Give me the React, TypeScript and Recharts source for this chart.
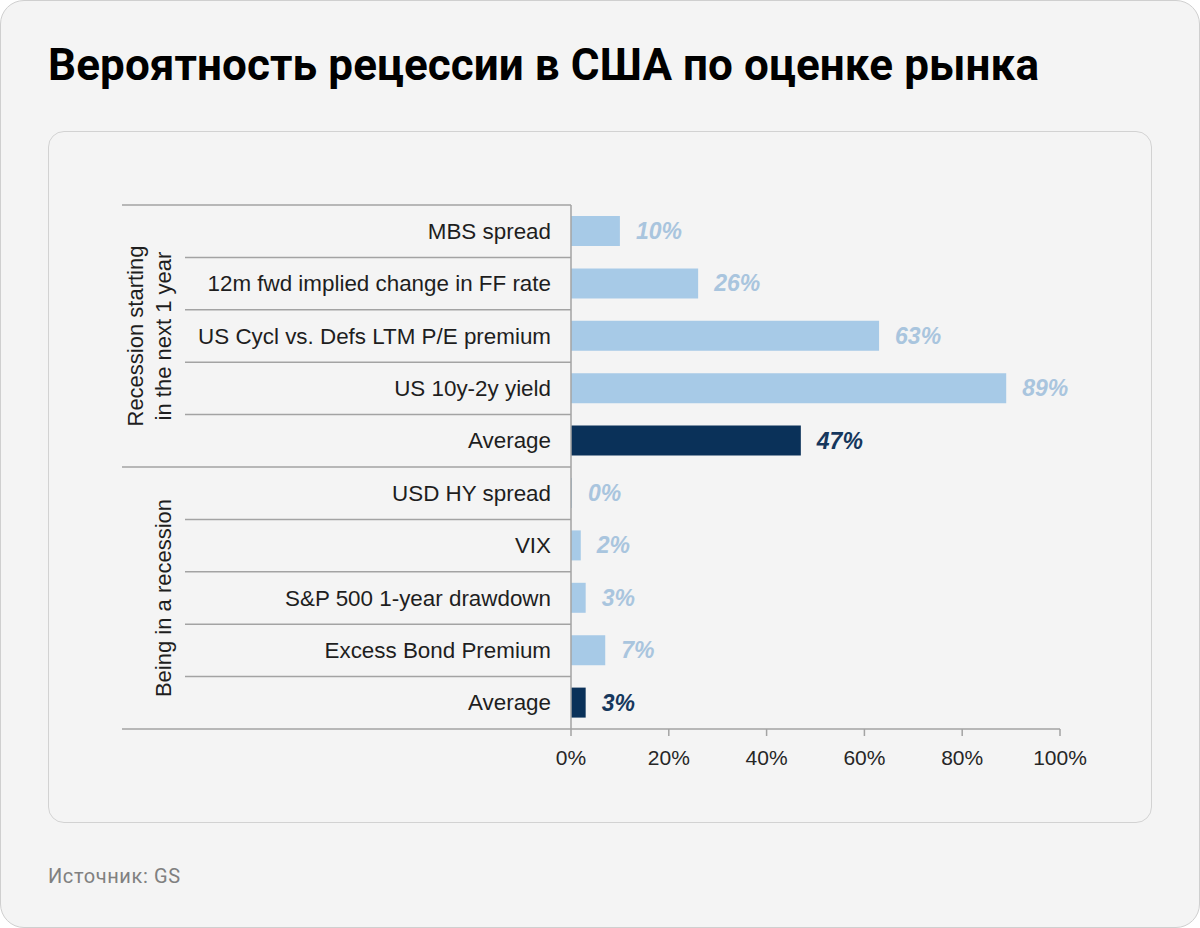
import React from 'react';
import { BarChart, Bar, XAxis, YAxis, Cell, LabelList } from 'recharts';

// rows, top to bottom
const CATEGORIES = [
  'MBS spread',
  '12m fwd implied change in FF rate',
  'US Cycl vs. Defs LTM P/E premium',
  'US 10y-2y yield',
  'Average',
  'USD HY spread',
  'VIX',
  'S&P 500 1-year drawdown',
  'Excess Bond Premium',
  'Average',
];
const VALUES = [10, 26, 63, 89, 47, 0.2, 2, 3, 7, 3];
const GROUP_OF = [0, 0, 0, 0, 0, 1, 1, 1, 1, 1];
const AVERAGE_ROWS = [4, 9];
const GROUP_LABELS = [['Recession starting', 'in the next 1 year'], ['Being in a recession']];
const X_TICKS = [0, 20, 40, 60, 80, 100];

const LIGHT_BAR = '#a7cae7';
const DARK_BAR = '#0a3159';
const LIGHT_LABEL = '#a9c5de';
const DARK_LABEL = '#16375d';
const RULE = '#a3a3a3';

const FONT = '"Liberation Sans", Arial, sans-serif';

// layout of the plot
const PLOT_LEFT = 571;
const PLOT_TOP = 205;
const PLOT_BOTTOM = 729;
const PLOT_RIGHT = 1060;
const ROW_H = (PLOT_BOTTOM - PLOT_TOP) / CATEGORIES.length;
const TICK_GAP = 20;

const data = CATEGORIES.map((name, i) => ({
  key: `${GROUP_OF[i]}|${name}`,
  name,
  value: VALUES[i],
  avg: AVERAGE_ROWS.includes(i),
}));
const rowKeys = data.map(d => d.key);

const CategoryTick = (props: any) => {
  const { x, y, payload } = props;
  const i = rowKeys.indexOf(payload.value);
  if (i < 0) return null;
  const g = GROUP_OF[i];
  const firstOfGroup = i === 0 || GROUP_OF[i - 1] !== g;
  const isLast = i === rowKeys.length - 1;
  const axisX = x + TICK_GAP;
  const top = y - ROW_H / 2;
  const groupRows = GROUP_OF.filter(v => v === g).length;
  const groupMid = top + (groupRows * ROW_H) / 2;
  const lines = GROUP_LABELS[g];
  return (
    <g>
      <line x1={firstOfGroup ? 122 : 185} x2={axisX} y1={top} y2={top} stroke={RULE} strokeWidth={1.5} />
      {isLast && (
        <line x1={122} x2={axisX} y1={y + ROW_H / 2} y2={y + ROW_H / 2} stroke={RULE} strokeWidth={1.5} />
      )}
      <text x={x} y={y} textAnchor="end" dominantBaseline="central" fontSize={22.4} fill="#1e1e1e" fontFamily={FONT}>
        {CATEGORIES[i]}
      </text>
      {firstOfGroup &&
        lines.map((t, k) => {
          const lx = 163 - (lines.length - 1 - k) * 28;
          return (
            <text
              key={k}
              x={lx}
              y={groupMid}
              transform={`rotate(-90 ${lx} ${groupMid})`}
              textAnchor="middle"
              dominantBaseline="central"
              fontSize={22}
              fill="#1e1e1e"
              fontFamily={FONT}
            >
              {t}
            </text>
          );
        })}
    </g>
  );
};

const ValueLabel = (props: any) => {
  const { x, y, width, height, value } = props;
  const row = data.find(d => d.key === value);
  if (!row) return null;
  return (
    <text
      x={x + width + 16}
      y={y + height / 2}
      dominantBaseline="central"
      fontSize={23}
      fontWeight="bold"
      fontStyle="italic"
      fill={row.avg ? DARK_LABEL : LIGHT_LABEL}
      fontFamily={FONT}
    >
      {`${Math.round(row.value)}%`}
    </text>
  );
};

export default function App() {
  const xAxisH = 40;
  return (
    <div
      style={{
        position: 'absolute',
        left: 0,
        top: 0,
        width: 1200,
        height: 928,
        boxSizing: 'border-box',
        background: '#f4f4f4',
        border: '1px solid #cfcfcf',
        borderRadius: 24,
        overflow: 'hidden',
      }}
    >
      <div
        style={{
          position: 'absolute',
          left: 47,
          top: 42,
          fontFamily: 'Roboto, sans-serif',
          fontWeight: 700,
          fontSize: 44,
          lineHeight: '44px',
          color: '#000',
          letterSpacing: 0.1,
          whiteSpace: 'nowrap',
        }}
      >
        Вероятность рецессии в США по оценке рынка
      </div>
      <div
        style={{
          position: 'absolute',
          left: 47,
          top: 130,
          width: 1104,
          height: 692,
          boxSizing: 'border-box',
          border: '1px solid #d2d2d2',
          borderRadius: 16,
        }}
      />
      <div
        style={{
          position: 'absolute',
          left: 47,
          top: 865,
          fontFamily: 'Roboto, sans-serif',
          fontSize: 20,
          lineHeight: '20px',
          color: '#808080',
          letterSpacing: 0.6,
          whiteSpace: 'nowrap',
        }}
      >
        Источник: GS
      </div>
      <div style={{ position: 'absolute', left: -1, top: -1 }}>
        <BarChart
          width={1200}
          height={928}
          data={data}
          layout="vertical"
          barCategoryGap={0}
          margin={{ top: PLOT_TOP, right: 1200 - PLOT_RIGHT, bottom: 928 - PLOT_BOTTOM - xAxisH, left: 0 }}
        >
          <XAxis
            type="number"
            domain={[0, 100]}
            ticks={X_TICKS}
            tickFormatter={v => `${v}%`}
            height={xAxisH}
            axisLine={{ stroke: RULE, strokeWidth: 1.5 }}
            tickLine={{ stroke: RULE, strokeWidth: 1.5 }}
            tickSize={7}
            tickMargin={14}
            tick={{ fontSize: 21, fill: '#262626', fontFamily: FONT }}
            interval={0}
          />
          <YAxis
            type="category"
            dataKey="key"
            width={PLOT_LEFT}
            axisLine={{ stroke: RULE, strokeWidth: 1.5 }}
            tickLine={false}
            tickSize={0}
            tickMargin={TICK_GAP}
            tick={<CategoryTick />}
            interval={0}
          />
          <Bar dataKey="value" barSize={30} isAnimationActive={false}>
            {data.map((d, i) => (
              <Cell key={i} fill={d.avg ? DARK_BAR : LIGHT_BAR} />
            ))}
            <LabelList dataKey="key" content={<ValueLabel />} />
          </Bar>
        </BarChart>
      </div>
    </div>
  );
}
